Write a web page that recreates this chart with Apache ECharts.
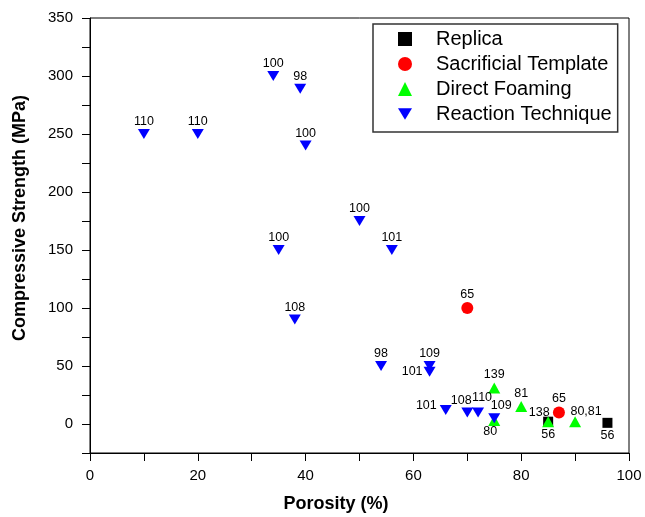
<!DOCTYPE html>
<html>
<head>
<meta charset="utf-8">
<script src="https://cdn.jsdelivr.net/npm/echarts@6/dist/echarts.min.js"></script>
<style>
html,body{margin:0;padding:0;background:#fff;}
#chart{width:645px;height:517px;}
</style>
</head>
<body>
<div id="chart"></div>
<script>
// ---- data ----
var seriesNames = ['Replica', 'Sacrificial Template', 'Direct Foaming', 'Reaction Technique'];

var replicaX = [85, 96];
var replicaY = [2, 1];
var replicaLabels = ['56', '56'];

var sacrificialX = [70, 87];
var sacrificialY = [100, 10];
var sacrificialLabels = ['65', '65'];

var foamingX = [75, 80, 85, 90, 75];
var foamingY = [31, 15, 2, 2, 3];
var foamingLabels = ['139', '81', '138', '80,81', '80'];

var reactionX = [10, 20, 34, 39, 40, 35, 50, 56, 38, 54, 63, 63, 66, 70, 72, 75];
var reactionY = [250, 250, 300, 289, 240, 150, 175, 150, 90, 50, 50, 45, 12, 10, 10, 5];
var reactionLabels = ['110', '110', '100', '98', '100', '100', '100', '101', '108', '98', '109', '101', '101', '108', '110', '109'];

var xTicks = [0, 20, 40, 60, 80, 100];
var yTicks = [0, 50, 100, 150, 200, 250, 300, 350];

// ---- label placement (layout only) ----
var replicaPlace = ['bottom', 'bottom'];
var sacrificialPlace = ['top', 'top'];
var foamingPlace = ['top', 'top', 'upleft138', 'upright', 'below80'];
var reactionPlace = ['top','top','top','top','top','top','top','top','top','top','top','left','leftup','topleft','topright','topright109'];

var placeStyles = {
  top: {position: 'top', distance: 1, offset: [0, 0]},
  bottom: {position: 'bottom', distance: 1, offset: [0, 0]},
  left: {position: 'left', distance: 1, offset: [0, 0]},
  leftup: {position: 'left', distance: 3, offset: [0, -5]},
  topleft: {position: 'top', distance: 1, offset: [-6, 1]},
  topright: {position: 'top', distance: 1, offset: [4, -2]},
  topright109: {position: 'top', distance: 1, offset: [7, 0]},
  upleft138: {position: 'top', distance: 1, offset: [-9, 4]},
  upright: {position: 'top', distance: 1, offset: [11, 3]},
  below80: {position: 'bottom', distance: 1, offset: [-4, -2]}
};

function buildData(xs, ys, labels, places) {
  return xs.map(function (x, i) {
    var p = placeStyles[places[i]];
    return {
      value: [x, ys[i]],
      label: {
        show: true,
        formatter: labels[i],
        position: p.position,
        distance: p.distance,
        offset: p.offset
      }
    };
  });
}

var downTri = 'path://M0,0 L12,0 L6,10 Z';
var labelStyle = {fontFamily: 'Liberation Sans', fontSize: 12.5, color: '#000'};

var chart = echarts.init(document.getElementById('chart'), null, {renderer: 'canvas'});
chart.setOption({
  animation: false,
  backgroundColor: '#fff',
  grid: {left: 90, right: 16, top: 18, bottom: 64, show: true, borderColor: '#000', borderWidth: 1},
  legend: {
    orient: 'vertical',
    left: 373, top: 24,
    data: seriesNames,
    itemWidth: 14, itemHeight: 14,
    itemGap: 5,
    padding: [5, 6, 8, 25],
    backgroundColor: '#fff',
    borderColor: '#333',
    borderWidth: 1.5,
    textStyle: {fontFamily: 'Liberation Sans', fontSize: 20, lineHeight: 20, color: '#000', padding: [0, 0, 0, 19]}
  },
  xAxis: {
    type: 'value', min: 0, max: 100, interval: 10,
    axisLine: {show: true, onZero: false, lineStyle: {color: '#000', width: 1}},
    axisTick: {show: true, length: 8, lineStyle: {color: '#000'}},
    splitLine: {show: false},
    axisLabel: {
      margin: 15, fontFamily: 'Liberation Sans', fontSize: 15, color: '#000',
      formatter: function (v) { return xTicks.indexOf(v) >= 0 ? String(v) : ''; }
    }
  },
  yAxis: {
    type: 'value', min: -25, max: 350, interval: 25,
    axisLine: {show: true, onZero: false, lineStyle: {color: '#000', width: 1}},
    axisTick: {show: true, length: 8, lineStyle: {color: '#000'}},
    splitLine: {show: false},
    axisLabel: {
      margin: 17, fontFamily: 'Liberation Sans', fontSize: 15, color: '#000',
      formatter: function (v) { return yTicks.indexOf(v) >= 0 ? String(v) : ''; }
    }
  },
  graphic: [
    {type: 'text', x: 20, y: 218, rotation: Math.PI / 2,
     style: {text: 'Compressive Strength (MPa)', font: 'bold 18px "Liberation Sans"', fill: '#000', textAlign: 'center', textVerticalAlign: 'middle'}},
    {type: 'text', x: 336, y: 504,
     style: {text: 'Porosity (%)', font: 'bold 18px "Liberation Sans"', fill: '#000', textAlign: 'center', textVerticalAlign: 'middle'}}
  ],
  series: [
    {
      name: seriesNames[0], type: 'scatter', symbol: 'rect', symbolSize: 10,
      itemStyle: {color: '#000', opacity: 1},
      label: labelStyle,
      data: buildData(replicaX, replicaY, replicaLabels, replicaPlace)
    },
    {
      name: seriesNames[1], type: 'scatter', symbol: 'circle', symbolSize: 12,
      itemStyle: {color: '#ff0000', opacity: 1},
      label: labelStyle,
      data: buildData(sacrificialX, sacrificialY, sacrificialLabels, sacrificialPlace)
    },
    {
      name: seriesNames[2], type: 'scatter', symbol: 'triangle', symbolSize: [12, 11],
      itemStyle: {color: '#00ff00', opacity: 1},
      label: labelStyle,
      data: buildData(foamingX, foamingY, foamingLabels, foamingPlace)
    },
    {
      name: seriesNames[3], type: 'scatter', symbol: downTri, symbolSize: [12, 10],
      itemStyle: {color: '#0000ff', opacity: 1},
      label: labelStyle,
      data: buildData(reactionX, reactionY, reactionLabels, reactionPlace)
    }
  ]
});
</script>
</body>
</html>
